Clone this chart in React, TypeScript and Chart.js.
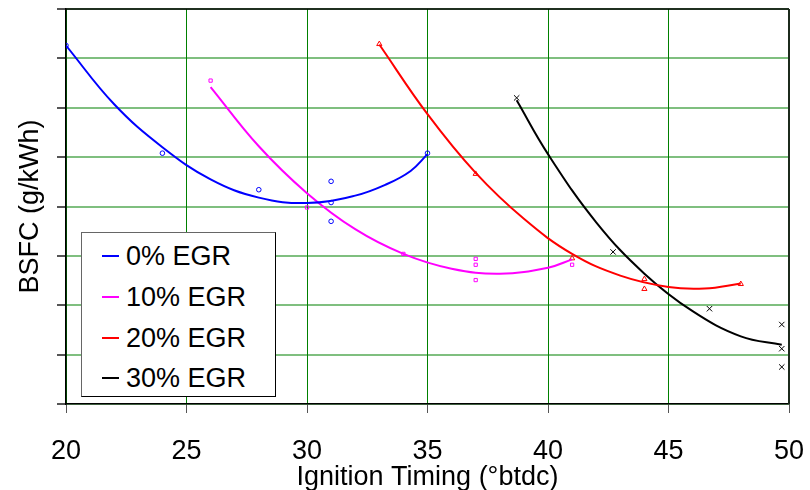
import React, { useEffect, useRef } from "react";
import { Chart, registerables } from "chart.js";

Chart.register(...registerables);

// ---- data ----
const xTickValues = [20, 25, 30, 35, 40, 45, 50];
const seriesNames = ["0% EGR", "10% EGR", "20% EGR", "30% EGR"];
const seriesColors = ["#0000ff", "#ff00ff", "#ff0000", "#000000"];

// measured points (x = ignition timing °btdc, y = BSFC in axis units)
const egr0Points = [[20, 7.26], [24, 5.08], [28, 4.34], [31, 4.51], [31, 4.08], [31, 3.7], [35, 5.08]];
const egr10Points = [[26, 6.55], [30, 3.98], [34, 3.04], [37, 2.94], [37, 2.82], [37, 2.51], [41, 2.82]];
const egr20Points = [[33, 7.29], [37, 4.66], [41, 2.95], [44, 2.53], [44, 2.33], [48, 2.43]];
const egr30Points = [[38.7, 6.2], [42.7, 3.08], [46.7, 1.93], [49.7, 1.61], [49.7, 1.12], [49.7, 0.75]];

// trend curves
const egr0Fit = [[20, 7.26], [22, 6.07], [24, 5.2], [26, 4.55], [28, 4.18], [30, 4.07], [32, 4.22], [33.3, 4.45], [34.3, 4.72], [35, 5.06]];
const egr10Fit = [[26, 6.42], [28, 5.22], [30, 4.27], [32, 3.54], [34, 3.04], [36, 2.74], [38, 2.64], [40, 2.76], [41, 2.93]];
const egr20Fit = [[33, 7.28], [35, 5.87], [37, 4.68], [39, 3.75], [41, 3.04], [43, 2.6], [45, 2.37], [46.5, 2.34], [48, 2.44]];
const egr30Fit = [[38.7, 6.15], [40, 5.06], [42, 3.68], [44, 2.64], [46, 1.88], [48, 1.37], [49.7, 1.2]];

const pointSets = [egr0Points, egr10Points, egr20Points, egr30Points];
const fitSets = [egr0Fit, egr10Fit, egr20Fit, egr30Fit];
const pointStyles = ["circle", "rect", "triangle", "crossRot"];
const pointRadii = [2.3, 2.3, 3, 3.8];

const FONT = "'Liberation Sans', Arial, Helvetica, sans-serif";

const toXY = (arr: number[][]) => arr.map(([x, y]) => ({ x, y }));

const frame = {
  id: "frame",
  afterDraw(chart: any) {
    const { ctx, chartArea } = chart;
    const { left, top, right, bottom } = chartArea;
    ctx.save();
    ctx.strokeStyle = "#000";
    ctx.lineWidth = 1.5;
    ctx.beginPath();
    ctx.moveTo(left, top);
    ctx.lineTo(right, top);
    ctx.stroke();
    ctx.strokeStyle = "#1c2a1c";
    ctx.lineWidth = 2;
    ctx.beginPath();
    ctx.moveTo(right, top);
    ctx.lineTo(right, bottom);
    ctx.stroke();
    ctx.restore();
  },
};

export default function App() {
  const ref = useRef<HTMLCanvasElement>(null);

  useEffect(() => {
    if (!ref.current) return;
    const datasets: any[] = [];
    fitSets.forEach((fit, i) => {
      datasets.push({
        label: seriesNames[i] + " fit",
        data: toXY(fit),
        showLine: true,
        borderColor: seriesColors[i],
        borderWidth: 2,
        pointRadius: 0,
        tension: 0.4,
        fill: false,
      });
    });
    pointSets.forEach((pts, i) => {
      datasets.push({
        label: seriesNames[i],
        data: toXY(pts),
        showLine: false,
        borderColor: seriesColors[i],
        backgroundColor: "rgba(255,255,255,0)",
        borderWidth: 1,
        pointStyle: pointStyles[i],
        pointRadius: pointRadii[i],
      });
    });

    const chart = new Chart(ref.current, {
      type: "scatter",
      data: { datasets },
      plugins: [frame],
      options: {
        responsive: false,
        animation: false,
        layout: { padding: { top: 9, right: 21, left: 0, bottom: 0 } },
        plugins: { legend: { display: false }, tooltip: { enabled: false }, title: { display: false } },
        scales: {
          x: {
            type: "linear",
            min: 20,
            max: 50,
            afterBuildTicks: (s: any) => {
              s.ticks = xTickValues.map((v) => ({ value: v }));
            },
            afterFit: (s: any) => {
              s.height = 86;
              s.paddingLeft = 0;
              s.paddingRight = 0;
            },
            ticks: {
              color: "#000",
              font: { family: FONT, size: 27 },
              padding: 22,
              maxRotation: 0,
              autoSkip: false,
            },
            grid: {
              color: "rgb(0,128,0)",
              lineWidth: 1,
              tickColor: "#555",
              tickLength: 9,
            },
            border: { display: true, color: "#000", width: 1.5 },
            title: {
              display: true,
              text: "Ignition Timing (°btdc)",
              color: "#000",
              font: { family: FONT, size: 27 },
              padding: { top: 0, bottom: -4 },
            },
          },
          y: {
            type: "linear",
            min: 0,
            max: 8,
            ticks: { display: false, stepSize: 1 },
            afterFit: (s: any) => {
              s.width = 66;
            },
            grid: {
              color: "rgba(0,128,0,0.5)",
              lineWidth: 2,
              tickColor: "#555",
              tickLength: 9,
            },
            border: { display: true, color: "#000", width: 1.5 },
            title: {
              display: true,
              text: "BSFC (g/kWh)",
              color: "#000",
              font: { family: FONT, size: 27 },
              padding: { top: 14, bottom: 0 },
            },
          },
        },
      },
    } as any);
    return () => chart.destroy();
  }, []);

  const legendRowTop = [23, 64, 105, 145];

  return (
    <div style={{ position: "fixed", left: 0, top: 0, width: 810, height: 490, background: "#fff" }}>
      <canvas ref={ref} width={810} height={490} style={{ display: "block" }} />
      <div
        style={{
          position: "absolute",
          left: 81,
          top: 232,
          width: 193,
          height: 163,
          background: "#fff",
          borderTop: "1.5px solid #666",
          borderLeft: "1.5px solid #666",
          borderRight: "1.5px solid #000",
          borderBottom: "1.5px solid #000",
          fontFamily: FONT,
          fontSize: 27,
          color: "#000",
        }}
      >
        {seriesNames.map((name, i) => (
          <div
            key={name}
            style={{
              position: "absolute",
              left: 0,
              top: legendRowTop[i] - 16,
              height: 32,
              display: "flex",
              alignItems: "center",
              whiteSpace: "nowrap",
            }}
          >
            <span
              style={{
                display: "inline-block",
                marginLeft: 20,
                width: 17,
                height: 2,
                background: seriesColors[i],
              }}
            />
            <span style={{ marginLeft: 7, lineHeight: "32px" }}>{name}</span>
          </div>
        ))}
      </div>
    </div>
  );
}
